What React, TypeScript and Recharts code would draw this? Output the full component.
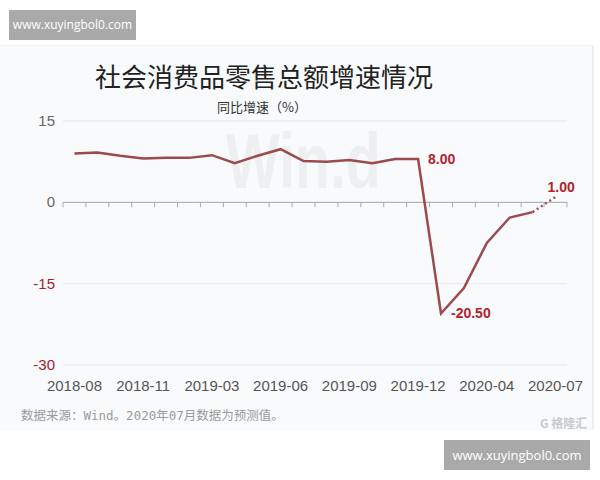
import React from "react";
import {
  LineChart,
  Line,
  XAxis,
  YAxis,
  CartesianGrid,
  ReferenceLine,
} from "recharts";

// 2019-02 and 2020-02 hold the combined Jan-Feb figures
const months = [
  "2018-08", "2018-09", "2018-10", "2018-11", "2018-12",
  "2019-02", "2019-03", "2019-04", "2019-05", "2019-06", "2019-07",
  "2019-08", "2019-09", "2019-10", "2019-11", "2019-12",
  "2020-02", "2020-03", "2020-04", "2020-05", "2020-06", "2020-07",
];
const growth = [
  9.0, 9.2, 8.6, 8.1, 8.2,
  8.2, 8.7, 7.2, 8.6, 9.8, 7.6,
  7.5, 7.8, 7.2, 8.0, 8.0,
  -20.5, -15.8, -7.5, -2.8, -1.8, 1.0,
];
const forecastFrom = 20; // last segment is the forecast (dotted)
const labelled = [15, 16, 21];
const tickIdx = [0, 3, 6, 9, 12, 15, 18, 21];
const yTicks = [-30, -15, 0, 15];

const data = months.map((m, i) => ({
  i,
  month: m,
  actual: i <= forecastFrom ? growth[i] : null,
  forecast: i >= forecastFrom ? growth[i] : null,
}));

const lineColor = "#9c4a4d";
const red = "#b2232c";
const font = '"Liberation Sans", Arial, sans-serif';
const cjk = '"Noto Sans CJK SC", sans-serif';

const YTick = (props: any) => {
  const { x, y, payload } = props;
  const v = payload.value;
  return (
    <text x={x} y={y} dy={5} textAnchor="end" fontSize={15} fontFamily={font}
      fill={v < 0 ? "#a0232b" : "#666"}>
      {v}
    </text>
  );
};

const PointLabel = (props: any) => {
  const { x, y, index, value } = props;
  if (!labelled.includes(index) || value == null) return null;
  const txt = Number(value).toFixed(2);
  const last = index === months.length - 1;
  return (
    <text x={last ? x - 8 : x + 10} y={last ? y - 10 : y} dy={5} fontSize={14}
      fontWeight="bold" fontFamily={font} fill={red}>
      {txt}
    </text>
  );
};

const App = () => {
  const bounds = Array.from({ length: months.length + 1 }, (_, k) => k - 0.5);
  return (
    <div style={{ position: "relative", width: 600, height: 480, background: "#fff", overflow: "hidden" }}>
      <style>{`body{margin:0}`}</style>

      <div style={{ position: "absolute", left: 9, top: 10, width: 127, height: 30, background: "#a9a9a9",
        color: "#fff", fontFamily: '"Open Sans", sans-serif', fontSize: 12, lineHeight: "30px", textAlign: "center" }}>
        www.xuyingbol0.com
      </div>

      <div style={{ position: "absolute", left: 0, top: 45, width: 592, height: 384, background: "#f9fafc",
        borderRight: "2px solid #eceef2", borderTop: "1px solid #f1f3f4" }} />

      {/* faint "Wind" watermark behind the plot */}
      <svg width={600} height={480} style={{ position: "absolute", left: 0, top: 0 }}>
        <g transform="translate(226,188) scale(1,1.35)">
          <text x={0} y={0} fontSize={57} fontWeight="bold" fontFamily={font} fill="#eeeff1">Win.d</text>
        </g>
      </svg>

      <div style={{ position: "absolute", left: 0, top: 63, width: 528, textAlign: "center",
        fontFamily: cjk, fontSize: 26, lineHeight: "26px", color: "#222" }}>
        社会消费品零售总额增速情况
      </div>
      <div style={{ position: "absolute", left: 0, top: 100, width: 524, textAlign: "center",
        fontFamily: cjk, fontSize: 13, lineHeight: "14px", color: "#333" }}>
        同比增速（%）
      </div>

      <div style={{ position: "absolute", left: 0, top: 0 }}>
        <LineChart width={600} height={480} data={data}
          margin={{ top: 121, right: 33, left: 13, bottom: 85 }}>
          <CartesianGrid vertical={false} stroke="#e6e7ea" />
          <XAxis dataKey="i" type="number" domain={[-0.5, months.length - 0.5]} ticks={tickIdx}
            tickFormatter={(v) => months[v]} axisLine={false} tickLine={false} tickSize={0}
            tickMargin={15} interval={0}
            tick={{ fontSize: 15, fill: "#555", fontFamily: font }} />
          <YAxis domain={[-30, 15]} ticks={yTicks} width={50} axisLine={false} tickLine={false}
            tick={<YTick />} />
          <ReferenceLine y={0} stroke="#aaa" strokeWidth={1} />
          {bounds.map((b) => (
            <ReferenceLine key={b} segment={[{ x: b, y: 0 }, { x: b, y: -0.9 }]}
              stroke="#aaa" strokeWidth={1} ifOverflow="visible" />
          ))}
          <Line dataKey="actual" stroke={lineColor} strokeWidth={2.5} dot={false}
            isAnimationActive={false} label={<PointLabel />} />
          <Line dataKey="forecast" stroke={lineColor} strokeWidth={2.5} dot={false}
            strokeDasharray="2 3" isAnimationActive={false} label={<PointLabel />} />
        </LineChart>
      </div>

      <div style={{ position: "absolute", left: 21, top: 408, fontSize: 12.5, lineHeight: "16px", color: "#9a9a9a",
        fontFamily: '"DejaVu Sans Mono", "Noto Sans CJK SC", monospace', whiteSpace: "nowrap" }}>
        数据来源：Wind。2020年07月数据为预测值。
      </div>
      <div style={{ position: "absolute", left: 540, top: 416, fontSize: 12, lineHeight: "14px", color: "#c8cacd",
        fontFamily: cjk, fontWeight: "bold" }}>
        G 格隆汇
      </div>

      <div style={{ position: "absolute", left: 444, top: 440, width: 146, height: 30, background: "#a9a9a9",
        color: "#fff", fontFamily: '"Open Sans", sans-serif', fontSize: 13, lineHeight: "30px", textAlign: "center" }}>
        www.xuyingbol0.com
      </div>
    </div>
  );
};

export default App;
